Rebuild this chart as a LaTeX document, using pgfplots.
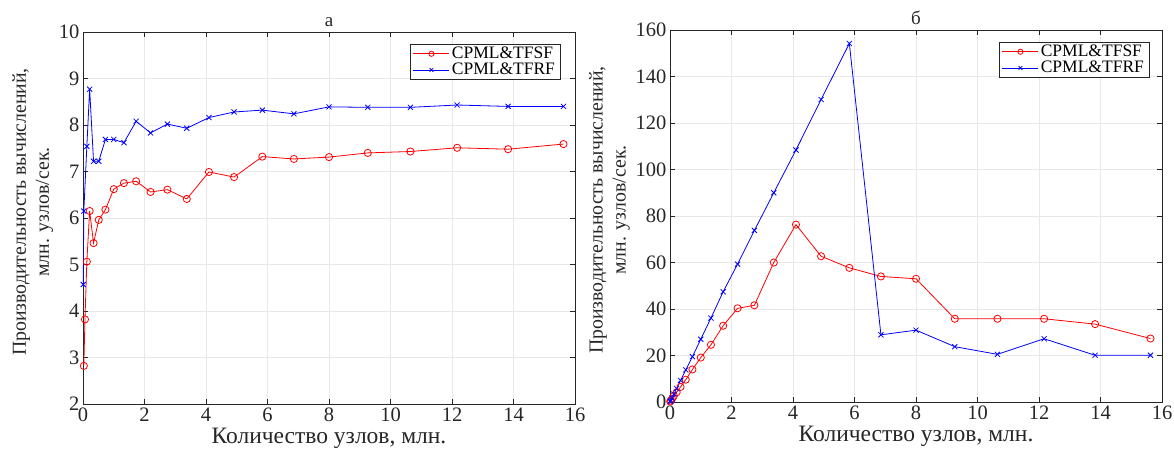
\documentclass[border=0pt]{standalone}
\usepackage{fontspec}
\setmainfont{Liberation Serif}
\usepackage{pgfplots}
\pgfplotsset{compat=1.18}

\definecolor{axgray}{RGB}{38,38,38}

\pgfplotsset{
  perf/.style={
    width=492pt,height=372pt,scale only axis,
    xmin=0,xmax=16,xtick={0,2,...,16},
    grid=major,grid style={gray!18,line width=0.6pt},
    axis line style={axgray,line width=0.6pt},
    tick align=inside,tick style={axgray,line width=0.6pt},major tick length=5pt,
    xlabel={Количество узлов, млн.},
    ylabel={Производительность вычислений,\\млн. узлов/сек.},
    xlabel style={font=\fontsize{23.5}{26}\selectfont,text=axgray,yshift=0pt},
    ylabel style={align=center,font=\fontsize{19.8}{23}\selectfont,text=axgray,yshift=-1pt,xshift=6pt},
    tick label style={font=\fontsize{20.5}{22}\selectfont,text=axgray},
    /pgf/number format/assume math mode=true,
    title style={font=\fontsize{19}{20}\selectfont,yshift=-4pt,text=axgray},
    legend cell align=left,
    legend style={font=\fontsize{17.5}{19}\selectfont,draw=axgray,line width=0.6pt,
      inner xsep=3pt,inner ysep=1pt,row sep=-1pt,anchor=north east},
    legend image code/.code={
      \draw[line width=0.8pt,mark repeat=2,mark phase=2,mark size=2.6pt] plot coordinates {(0pt,0pt)(18pt,0pt)(36pt,0pt)};},
  },
  tfsf/.style={red,line width=0.8pt,mark=o,mark size=3.6pt,mark options={line width=0.8pt}},
  tfrf/.style={blue,line width=0.8pt,mark=x,mark size=3.6pt,mark options={line width=0.8pt}},
}

\begin{document}
\begin{tikzpicture}
\useasboundingbox (-83pt,-52pt) rectangle (1091pt,404pt);

\begin{axis}[perf,
  title={а},
  ymin=2,ymax=10,ytick={2,3,...,10},
  legend style={at={(0.97,0.968)}},
]
\addplot[tfsf] coordinates {
(0.027,2.82)(0.064,3.82)(0.125,5.06)(0.216,6.15)(0.343,5.46)(0.512,5.96)
(0.729,6.18)(1.0,6.62)(1.331,6.75)(1.728,6.79)(2.197,6.56)(2.744,6.61)
(3.375,6.41)(4.096,6.99)(4.913,6.88)(5.832,7.32)(6.859,7.27)(8.0,7.31)
(9.261,7.40)(10.648,7.43)(12.167,7.51)(13.824,7.48)(15.625,7.59)};
\addlegendentry{CPML\&TFSF}
\addplot[tfrf] coordinates {
(0.008,4.57)(0.027,6.15)(0.125,7.54)(0.216,8.77)(0.343,7.22)(0.512,7.22)
(0.729,7.69)(1.0,7.69)(1.331,7.62)(1.728,8.08)(2.197,7.83)(2.744,8.02)
(3.375,7.93)(4.096,8.16)(4.913,8.28)(5.832,8.32)(6.859,8.24)(8.0,8.39)
(9.261,8.38)(10.648,8.38)(12.167,8.43)(13.824,8.40)(15.625,8.40)};
\addlegendentry{CPML\&TFRF}
\end{axis}

\begin{axis}[perf,xshift=587pt,yshift=2pt,
  title={б},
  ymin=0,ymax=160,ytick={0,20,...,160},
  legend style={at={(0.974,0.968)}},
]
\addplot[tfsf] coordinates {
(0.008,0.2)(0.027,0.6)(0.064,1.3)(0.125,2.6)(0.216,4.2)(0.343,6.5)(0.512,9.6)
(0.729,14.0)(1.0,19.1)(1.331,24.6)(1.728,32.8)(2.197,40.3)(2.744,41.6)
(3.375,60.0)(4.096,76.3)(4.913,62.7)(5.832,57.7)(6.859,54.0)(8.0,53.0)
(9.261,35.8)(10.648,35.8)(12.167,35.8)(13.824,33.5)(15.625,27.3)};
\addlegendentry{CPML\&TFSF}
\addplot[tfrf] coordinates {
(0.008,0.2)(0.027,0.7)(0.064,1.7)(0.125,3.4)(0.216,5.8)(0.343,9.3)(0.512,13.8)
(0.729,19.5)(1.0,27.0)(1.331,36.1)(1.728,47.4)(2.197,59.3)(2.744,73.8)
(3.375,90.0)(4.096,108.4)(4.913,130.1)(5.832,154.2)(6.859,28.9)(8.0,30.9)
(9.261,23.8)(10.648,20.5)(12.167,27.2)(13.824,20.1)(15.625,20.1)};
\addlegendentry{CPML\&TFRF}
\end{axis}
\end{tikzpicture}
\end{document}
